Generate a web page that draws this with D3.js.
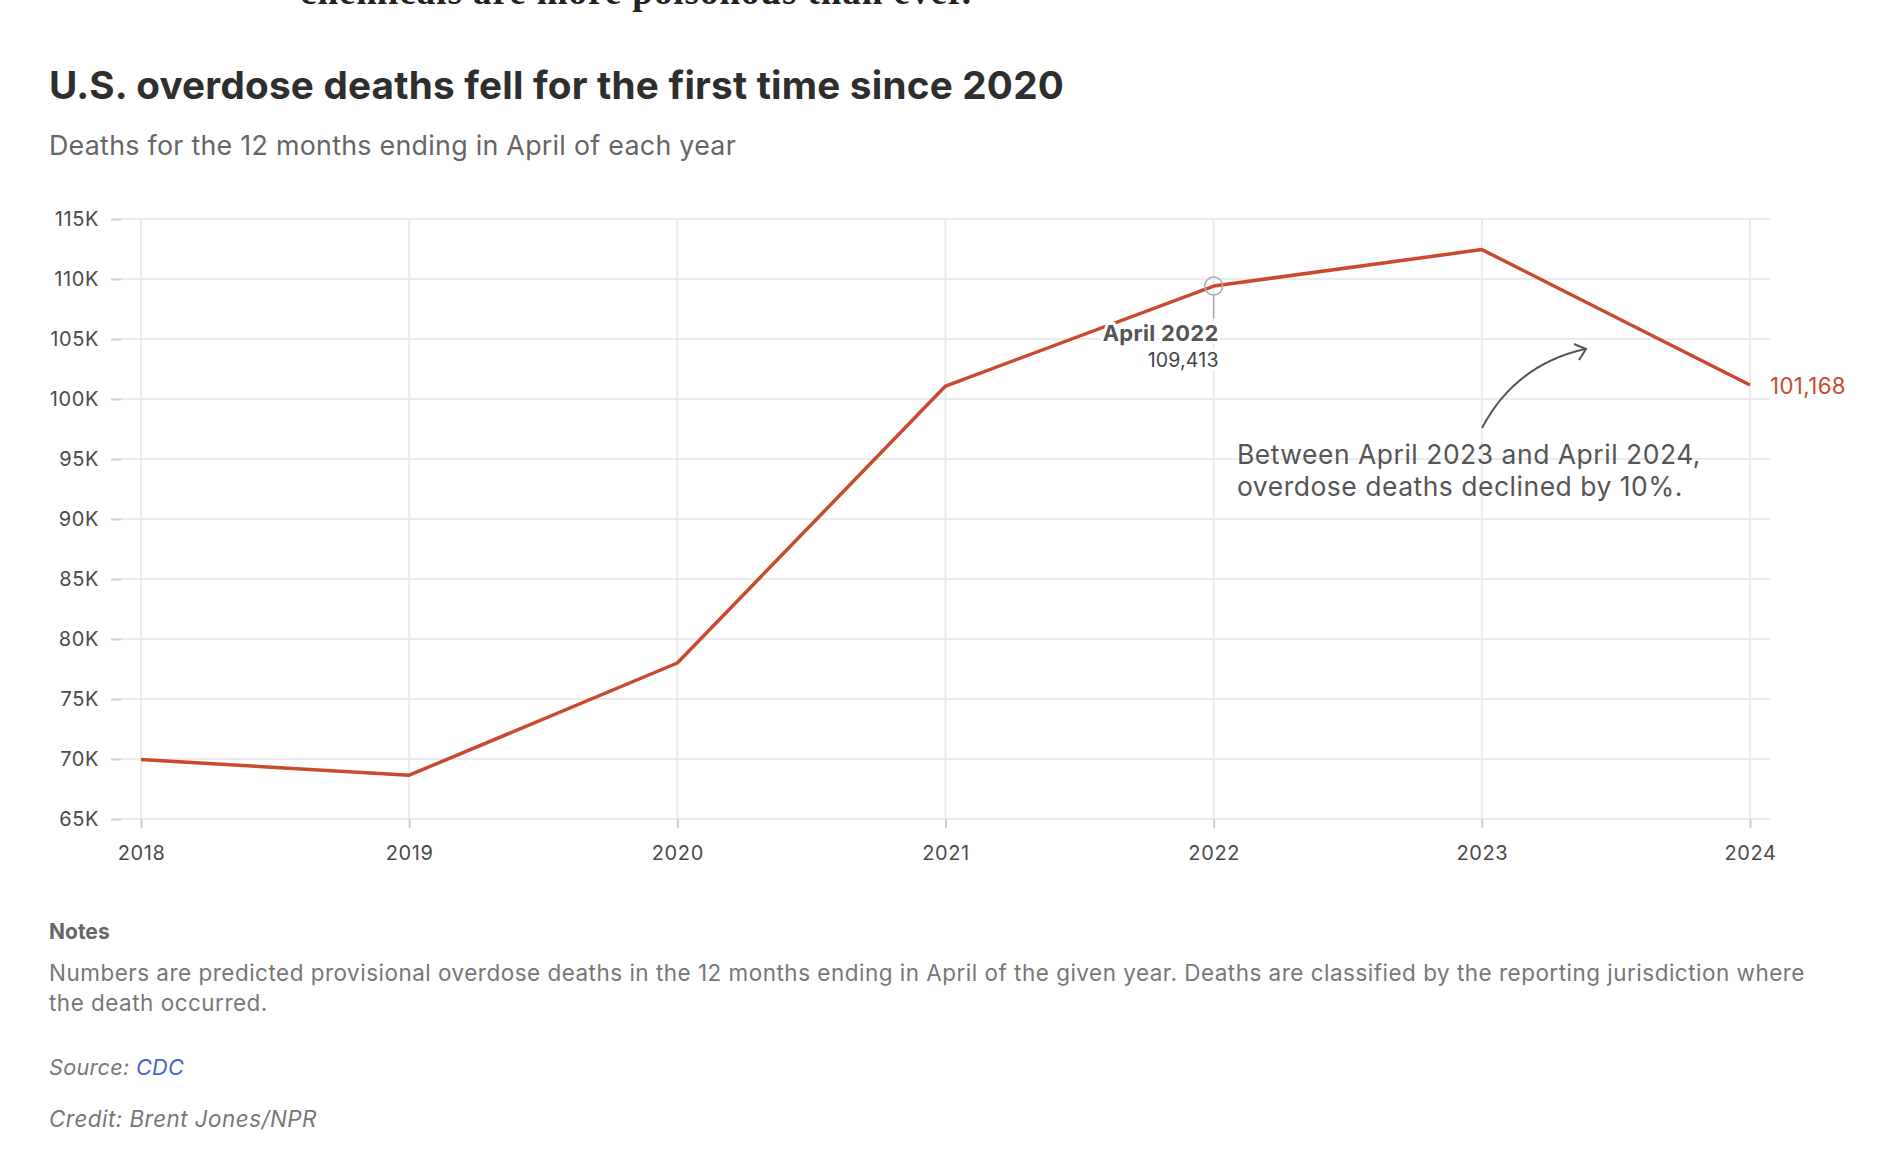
<!DOCTYPE html>
<html><head><meta charset="utf-8">
<script src="https://cdn.jsdelivr.net/npm/d3@7"></script>
<style>
html,body{margin:0;padding:0;background:#fff;}
svg{display:block;}
</style></head>
<body>
<svg id="chart" width="1886" height="1164"></svg>
<script>
// ---- data ----
const years = [2018, 2019, 2020, 2021, 2022, 2023, 2024];
const deaths = [69950, 68650, 78000, 101080, 109413, 112450, 101168];
const yTickValues = [65000, 70000, 75000, 80000, 85000, 90000, 95000, 100000, 105000, 110000, 115000];
const yTickLabels = ["65K", "70K", "75K", "80K", "85K", "90K", "95K", "100K", "105K", "110K", "115K"];
const xTickLabels = ["2018", "2019", "2020", "2021", "2022", "2023", "2024"];
const highlightYear = 2022;
const titleText = "U.S. overdose deaths fell for the first time since 2020";
const subtitleText = "Deaths for the 12 months ending in April of each year";
const annotationLines = ["Between April 2023 and April 2024,", "overdose deaths declined by 10%."];
const notesLines = ["Numbers are predicted provisional overdose deaths in the 12 months ending in April of the given year. Deaths are classified by the reporting jurisdiction where", "the death occurred."];

const SANS = "Inter, 'Open Sans', sans-serif";
const RED = "#c94a2e";

const svg = d3.select("#chart");

// fit a text to a target width: part via font size, rest via letter spacing
function fit(sel, target) {
  const fs0 = +sel.attr("font-size");
  const w0 = sel.node().getComputedTextLength();
  const fs = fs0 * Math.pow(target / w0, 0.6);
  sel.attr("font-size", fs.toFixed(2));
  const w1 = sel.node().getComputedTextLength();
  const n = sel.text().length;
  sel.attr("letter-spacing", ((target - w1) / n).toFixed(3));
  return sel;
}
function copyFit(from, to) {
  to.attr("font-size", from.attr("font-size")).attr("letter-spacing", from.attr("letter-spacing"));
}

// cut-off article text at the top
const topTxt = svg.append("text").attr("x", 300).attr("y", 4)
  .attr("font-family", "'Liberation Serif', 'DejaVu Serif', serif").attr("font-weight", 700)
  .attr("font-size", 34).attr("fill", "#222").text("chemicals are more poisonous than ever.");
fit(topTxt, 672);

// title & subtitle
const title = svg.append("text").attr("x", 49).attr("y", 99)
  .attr("font-family", SANS).attr("font-weight", 700).attr("font-size", 38)
  .attr("fill", "#2e2e2e").text(titleText);
fit(title, 1015);
const sub = svg.append("text").attr("x", 49).attr("y", 155)
  .attr("font-family", SANS).attr("font-size", 26).attr("fill", "#666").text(subtitleText);
fit(sub, 687);

// scales
const x = d3.scaleLinear().domain([2018, 2024]).range([141, 1750]);
const y = d3.scaleLinear().domain([65000, 115000]).range([819, 219]);
const gridLeft = 121, gridRight = 1770;

// horizontal grid
svg.append("g").selectAll("line").data(yTickValues).join("line")
  .attr("x1", gridLeft).attr("x2", gridRight)
  .attr("y1", d => y(d)).attr("y2", d => y(d))
  .attr("stroke", "#ebebeb").attr("stroke-width", 2);

// vertical grid
svg.append("g").selectAll("line").data(years).join("line")
  .attr("x1", d => x(d)).attr("x2", d => x(d))
  .attr("y1", y(115000)).attr("y2", y(65000))
  .attr("stroke", "#ebebeb").attr("stroke-width", 2);

// y axis
const yAxis = svg.append("g").attr("transform", `translate(${gridLeft},0)`)
  .call(d3.axisLeft(y).tickValues(yTickValues)
    .tickFormat((d, i) => yTickLabels[i]).tickSize(10).tickPadding(12));
yAxis.select(".domain").remove();
yAxis.selectAll(".tick line").attr("stroke", "#ccc").attr("stroke-width", 2);
yAxis.selectAll(".tick text").attr("font-family", SANS).attr("font-size", 20)
  .attr("letter-spacing", 0.6).attr("fill", "#4a4a4a");

// x axis
const xAxis = svg.append("g").attr("transform", `translate(0,${y(65000)})`)
  .call(d3.axisBottom(x).tickValues(years)
    .tickFormat((d, i) => xTickLabels[i]).tickSize(9).tickPadding(18));
xAxis.select(".domain").remove();
xAxis.selectAll(".tick line").attr("stroke", "#ccc").attr("stroke-width", 2);
xAxis.selectAll(".tick text").attr("font-family", SANS).attr("font-size", 20)
  .attr("letter-spacing", 0.6).attr("fill", "#4a4a4a");

// line
const pts = years.map((yr, i) => [yr, deaths[i]]);
svg.append("path").datum(pts)
  .attr("fill", "none").attr("stroke", RED).attr("stroke-width", 3.5)
  .attr("stroke-linejoin", "round")
  .attr("d", d3.line().x(d => x(d[0])).y(d => y(d[1])));

// highlight 2022
const hi = years.indexOf(highlightYear);
const hx = x(highlightYear), hy = y(deaths[hi]);
svg.append("circle").attr("cx", hx).attr("cy", hy).attr("r", 9)
  .attr("fill", "none").attr("stroke", "#aaa").attr("stroke-width", 1.5);
svg.append("line").attr("x1", hx).attr("x2", hx).attr("y1", hy + 9).attr("y2", hy + 32)
  .attr("stroke", "#aaa").attr("stroke-width", 1.5);
const lblA = svg.append("text").attr("x", hx + 5).attr("y", hy + 55).attr("text-anchor", "end")
  .attr("font-family", SANS).attr("font-weight", 700).attr("font-size", 21).attr("fill", "#555")
  .attr("stroke", "#fff").attr("stroke-width", 6).attr("paint-order", "stroke")
  .text("April " + highlightYear);
fit(lblA, 116);
const lblB = svg.append("text").attr("x", hx + 5).attr("y", hy + 81).attr("text-anchor", "end")
  .attr("font-family", SANS).attr("font-size", 19).attr("fill", "#444")
  .attr("stroke", "#fff").attr("stroke-width", 6).attr("paint-order", "stroke")
  .text(d3.format(",")(deaths[hi]));
fit(lblB, 71);

// end label
const last = deaths.length - 1;
const endLbl = svg.append("text").attr("x", x(years[last]) + 20).attr("y", y(deaths[last]) + 9)
  .attr("font-family", SANS).attr("font-size", 21).attr("fill", RED)
  .text(d3.format(",")(deaths[last]));
fit(endLbl, 76);

// annotation arrow
svg.append("path").attr("d", "M1482,428 Q1515,365 1585,349")
  .attr("fill", "none").attr("stroke", "#555").attr("stroke-width", 2);
svg.append("path").attr("d", "M1574,344 L1586,349 L1579,360")
  .attr("fill", "none").attr("stroke", "#555").attr("stroke-width", 2)
  .attr("stroke-linejoin", "miter");

const annEls = annotationLines.map((t, i) => svg.append("text").attr("x", 1237).attr("y", 464 + i * 32)
  .attr("font-family", SANS).attr("font-size", 25).attr("fill", "#555").text(t));
fit(annEls[0], 464);
copyFit(annEls[0], annEls[1]);

// footer
svg.append("text").attr("x", 49).attr("y", 939)
  .attr("font-family", SANS).attr("font-weight", 700).attr("font-size", 21).attr("fill", "#666")
  .text("Notes");
const nl = notesLines.map((t, i) => svg.append("text").attr("x", 49).attr("y", 981 + i * 29.5)
  .attr("font-family", SANS).attr("font-size", 21).attr("fill", "#777").text(t));
fit(nl[0], 1756);
copyFit(nl[0], nl[1]);

const src = svg.append("text").attr("x", 49).attr("y", 1075)
  .attr("font-family", SANS).attr("font-style", "italic").attr("font-size", 21).attr("fill", "#777");
src.append("tspan").text("Source: ");
src.append("tspan").attr("fill", "#4466c8").text("CDC");
fit(src, 135);
const cred = svg.append("text").attr("x", 49).attr("y", 1127)
  .attr("font-family", SANS).attr("font-style", "italic").attr("font-size", 21).attr("fill", "#777")
  .text("Credit: Brent Jones/NPR");
fit(cred, 268);
</script>
</body></html>
